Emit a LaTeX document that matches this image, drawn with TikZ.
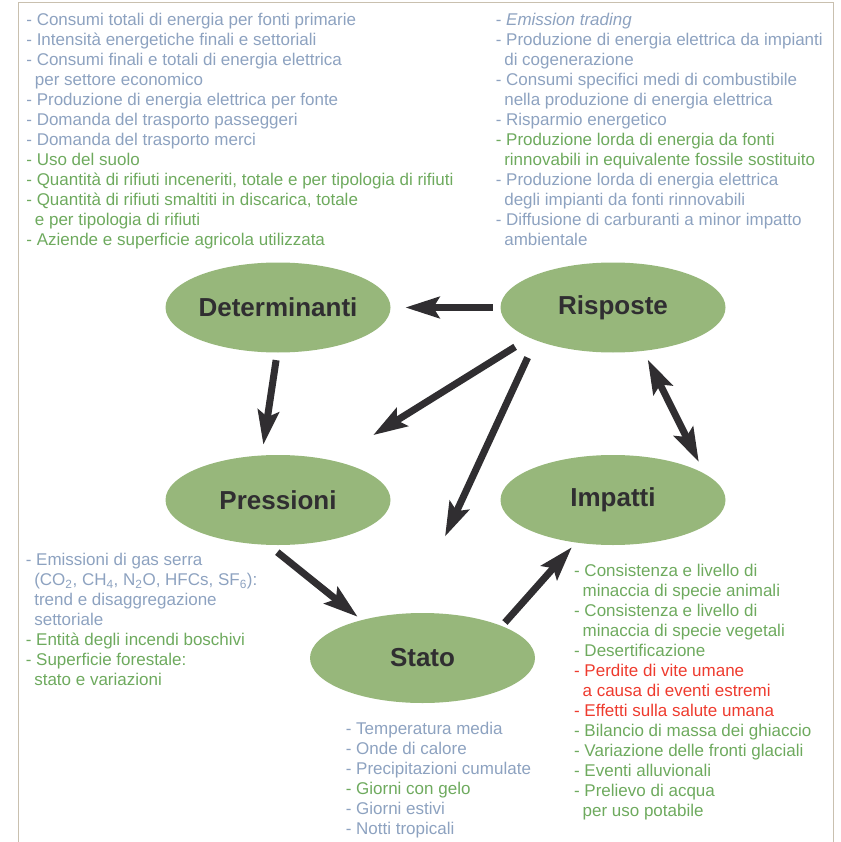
\documentclass[tikz,border=0pt]{standalone}
\usepackage{fontspec}
\setmainfont{Liberation Sans}
\usetikzlibrary{arrows.meta,shapes.geometric}

\definecolor{stagegreen}{HTML}{97B77B}
\definecolor{arrowgray}{HTML}{302E31}
\definecolor{framebeige}{HTML}{C9C0AF}
\definecolor{listblue}{HTML}{8DA2C0}
\definecolor{listgreen}{HTML}{6EAA5E}
\definecolor{listred}{HTML}{EE3B2E}

\newcommand{\txtb}[1]{\textcolor{listblue}{#1}}
\newcommand{\txtg}[1]{\textcolor{listgreen}{#1}}
\newcommand{\txtr}[1]{\textcolor{listred}{#1}}
\newcommand{\cont}{\hspace*{0.5em}}

\begin{document}
\begin{tikzpicture}[
    x=1pt, y=-1pt,
    every node/.style={font=\fontsize{17}{20}\selectfont},
    stage/.style={
        ellipse,
        fill=stagegreen,
        inner sep=0pt,
        minimum width=225pt,
        minimum height=90pt,
        font=\fontsize{26}{30}\selectfont\bfseries,
        text=arrowgray
    },
    % lists are placed by the baseline of their last line
    list/.style={anchor=base west, align=left, inner sep=0pt},
    arr/.style={-{Stealth[length=34pt, width=21pt, inset=6pt]}, line width=7pt, draw=arrowgray},
    dblarr/.style={{Stealth[length=34pt, width=21pt, inset=6pt]}-{Stealth[length=34pt, width=21pt, inset=6pt]}, line width=7pt, draw=arrowgray},
    frameline/.style={draw=framebeige, line width=1.5pt}
]
    \useasboundingbox (0,0) rectangle (840,842);

    % Frame, open at the bottom
    \draw[frameline] (18.5,842) |- (833.5,2.7) -- (833.5,842);

    % DPSIR stages
    \node[stage] (det) at (278,307.5) {Determinanti};
    \node[stage] (ris) at (613,307.5) {Risposte};
    \node[stage] (pres) at (278,500) {Pressioni};
    \node[stage] (imp) at (613,500) {Impatti};
    \node[stage] (sta) at (422.5,658) {Stato};

    % Links between stages
    \draw[arr, shorten <=7.5pt, shorten >=14.5pt] (ris.west) -- (det.east);
    \draw[arr, shorten <=7.5pt, shorten >=10.6pt] (det.-91) -- (pres.110.6);
    \draw[arr, shorten <=17pt, shorten >=47.8pt] (ris.-160.8) -- (pres.36.5);
    \draw[arr, shorten <=19pt, shorten >=84.3pt] (ris.-157.3) -- (sta.106);
    \draw[dblarr, shorten <=9.4pt, shorten >=13pt] (ris.-55.7) -- (imp.16.4);
    \draw[arr, shorten <=11.4pt, shorten >=5pt] (pres.-102.4) -- (sta.148.4);
    \draw[arr, shorten <=4.6pt, shorten >=6pt] (sta.22.8) -- (imp.-131);

    % Indicators of the drivers
    \node[list] (detlist) at (26.2,245.5) {%
        \txtb{- Consumi totali di energia per fonti primarie}\\
        \txtb{- Intensità energetiche finali e settoriali}\\
        \txtb{- Consumi finali e totali di energia elettrica}\\
        \txtb{\cont per settore economico}\\
        \txtb{- Produzione di energia elettrica per fonte}\\
        \txtb{- Domanda del trasporto passeggeri}\\
        \txtb{- Domanda del trasporto merci}\\
        \txtg{- Uso del suolo}\\
        \txtg{- Quantità di rifiuti inceneriti, totale e per tipologia di rifiuti}\\
        \txtg{- Quantità di rifiuti smaltiti in discarica, totale}\\
        \txtg{\cont e per tipologia di rifiuti}\\
        \txtg{- Aziende e superficie agricola utilizzata}};

    % Indicators of the responses
    \node[list] (rislist) at (495.6,245.5) {%
        \txtb{- \textit{Emission trading}}\\
        \txtb{- Produzione di energia elettrica da impianti}\\
        \txtb{\cont di cogenerazione}\\
        \txtb{- Consumi specifici medi di combustibile}\\
        \txtb{\cont nella produzione di energia elettrica}\\
        \txtb{- Risparmio energetico}\\
        \txtg{- Produzione lorda di energia da fonti}\\
        \txtg{\cont rinnovabili in equivalente fossile sostituito}\\
        \txtb{- Produzione lorda di energia elettrica}\\
        \txtb{\cont degli impianti da fonti rinnovabili}\\
        \txtb{- Diffusione di carburanti a minor impatto}\\
        \txtb{\cont ambientale}};

    % Indicators of the pressures
    \node[list] (preslist) at (25.6,685.5) {%
        \txtb{- Emissioni di gas serra}\\
        \txtb{\cont (CO\textsubscript{2}, CH\textsubscript{4}, N\textsubscript{2}O, HFCs, SF\textsubscript{6}):}\\
        \txtb{\cont trend e disaggregazione}\\
        \txtb{\cont settoriale}\\
        \txtg{- Entità degli incendi boschivi}\\
        \txtg{- Superficie forestale:}\\
        \txtg{\cont stato e variazioni}};

    % Indicators of the impacts
    \node[list] (implist) at (573.9,816.5) {%
        \txtg{- Consistenza e livello di}\\
        \txtg{\cont minaccia di specie animali}\\
        \txtg{- Consistenza e livello di}\\
        \txtg{\cont minaccia di specie vegetali}\\
        \txtg{- Desertificazione}\\
        \txtr{- Perdite di vite umane}\\
        \txtr{\cont a causa di eventi estremi}\\
        \txtr{- Effetti sulla salute umana}\\
        \txtg{- Bilancio di massa dei ghiaccio}\\
        \txtg{- Variazione delle fronti glaciali}\\
        \txtg{- Eventi alluvionali}\\
        \txtg{- Prelievo di acqua}\\
        \txtg{\cont per uso potabile}};

    % Indicators of the state
    \node[list] (stalist) at (345.6,834.5) {%
        \txtb{- Temperatura media}\\
        \txtb{- Onde di calore}\\
        \txtb{- Precipitazioni cumulate}\\
        \txtg{- Giorni con gelo}\\
        \txtb{- Giorni estivi}\\
        \txtb{- Notti tropicali}};

\end{tikzpicture}
\end{document}
